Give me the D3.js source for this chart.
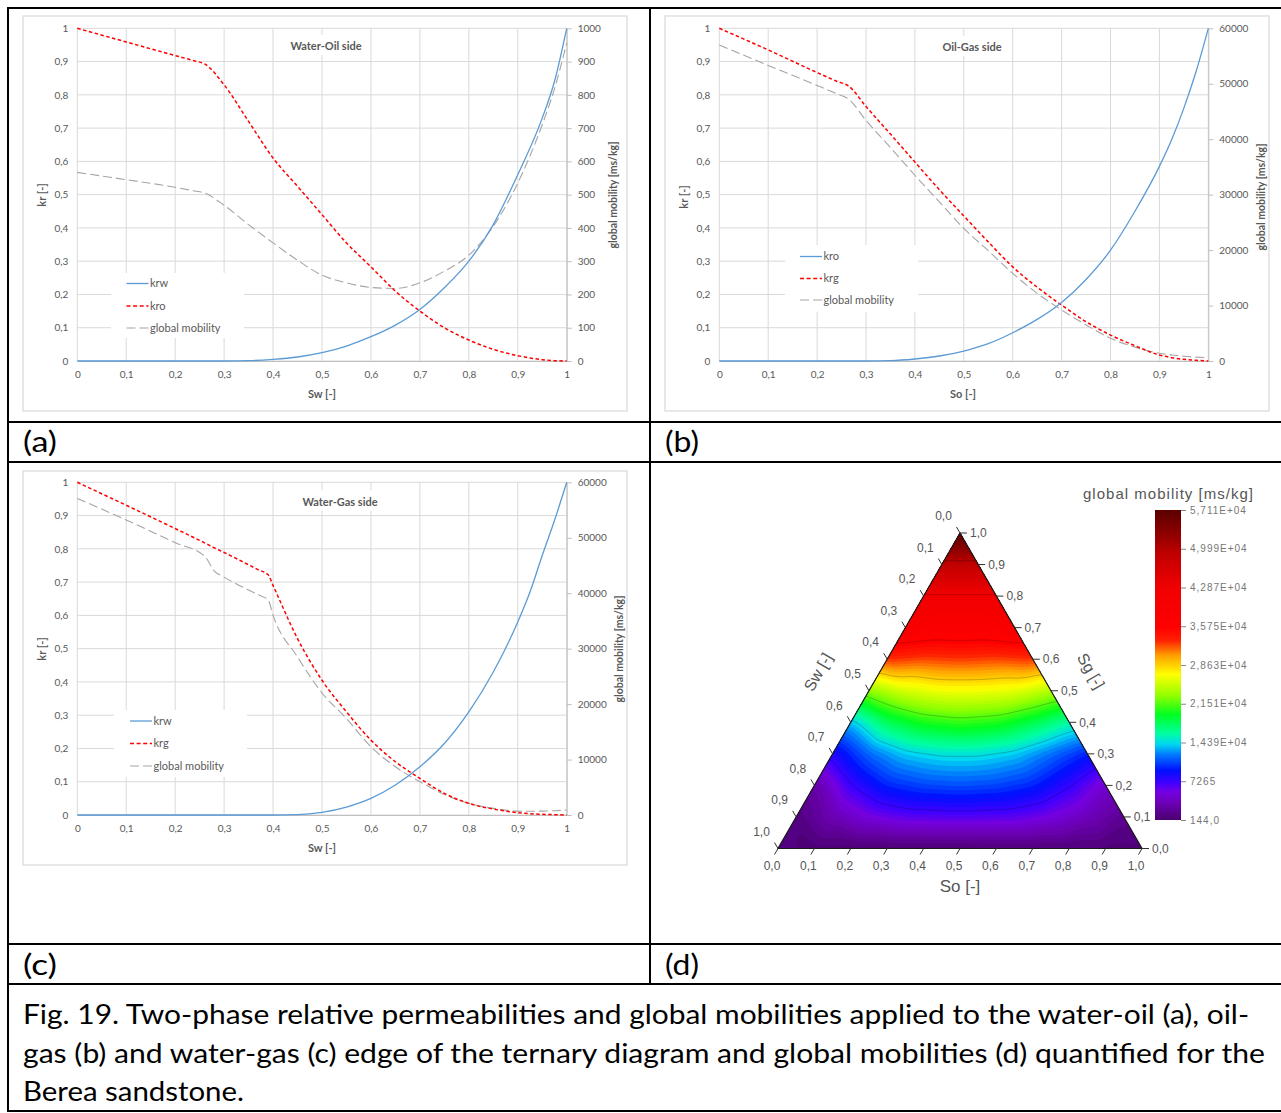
<!DOCTYPE html>
<html><head><meta charset="utf-8">
<script src="https://cdn.jsdelivr.net/npm/d3@7"></script>
<style>body{margin:0;background:#fff}svg{display:block}</style>
</head><body>
<svg id="fig" width="1281" height="1113"></svg>
<script>
// ---------------- DATA ----------------
const xTicks = [0,0.1,0.2,0.3,0.4,0.5,0.6,0.7,0.8,0.9,1];
const krTicks = [0,0.1,0.2,0.3,0.4,0.5,0.6,0.7,0.8,0.9,1];
const gmTicksA = [0,100,200,300,400,500,600,700,800,900,1000];
const gmTicksBC = [0,10000,20000,30000,40000,50000,60000];

// (a) water-oil side
const sw_a  = [0,0.1,0.2,0.24,0.26,0.3,0.35,0.4,0.45,0.5,0.55,0.6,0.65,0.7,0.75,0.8,0.85,0.9,0.95,0.975,1];
const krw_a = [0,0,0,0,0,0,0.001,0.005,0.012,0.025,0.045,0.073,0.108,0.155,0.22,0.30,0.41,0.56,0.73,0.84,1];
const kro_a = [1,0.959,0.918,0.902,0.893,0.83,0.72,0.61,0.525,0.44,0.355,0.283,0.21,0.15,0.10,0.063,0.035,0.016,0.004,0.001,0];
const gm_a  = [567,545,522,511,505,468,410,355,303,258,235,221,218,235,270,318,405,535,710,818,955];

// (b) oil-gas side
const so_b  = [0,0.1,0.2,0.24,0.265,0.3,0.35,0.4,0.45,0.5,0.55,0.6,0.65,0.7,0.75,0.8,0.85,0.9,0.925,0.95,0.975,1];
const kro_b = [0,0,0,0,0,0,0.001,0.006,0.015,0.03,0.052,0.085,0.125,0.176,0.245,0.333,0.45,0.585,0.665,0.76,0.87,1];
const krg_b = [1,0.935,0.867,0.841,0.826,0.765,0.682,0.598,0.515,0.436,0.358,0.283,0.222,0.168,0.118,0.078,0.046,0.018,0.01,0.005,0.002,0];
const gm_b  = [57000,53300,49700,48200,47200,43400,38500,33500,28700,23900,19900,15800,12200,9200,6500,4100,2500,1400,1100,850,700,600];

// (c) water-gas side
const sw_c  = [0,0.1,0.2,0.26,0.28,0.3,0.37,0.39,0.4,0.45,0.5,0.55,0.6,0.65,0.7,0.75,0.8,0.85,0.9,0.925,0.95,0.975,1];
const krw_c = [0,0,0,0,0,0,0,0,0,0.001,0.008,0.024,0.05,0.09,0.145,0.215,0.31,0.43,0.58,0.67,0.78,0.885,1];
const krg_c = [1,0.931,0.861,0.818,0.803,0.789,0.737,0.722,0.69,0.53,0.405,0.31,0.225,0.16,0.11,0.065,0.035,0.018,0.007,0.004,0.002,0.001,0];
const gm_c  = [57100,53200,49100,46700,44000,42900,39700,38800,36000,28500,22000,17400,12300,8700,6000,3700,2100,1200,700,680,700,780,900];

// (d) ternary global mobility read on a 0.1 lattice; row = Sg (0..1), entries from So = 0 (left edge) to So = 1-Sg (right edge)
const tern_r0  = [955,520,318,235,221,258,355,470,522,545,567];
const tern_r1  = [800,3200,5200,6200,6400,6400,6200,5200,3600,1600];
const tern_r2  = [2400,7200,9800,10700,11000,10700,9800,7500,4400];
const tern_r3  = [8000,11600,13800,14600,14600,13800,11800,9600];
const tern_r4  = [13500,18000,20000,20700,20200,18400,16000];
const tern_r5  = [22900,25400,26500,26500,26000,24100];
const tern_r6  = [33000,32400,32700,32400,32800];
const tern_r7  = [38500,37800,37800,38500];
const tern_r8  = [42500,42500,42500];
const tern_r9  = [49000,49000];
const tern_r10 = [57110];
const ternTicks = [0,0.1,0.2,0.3,0.4,0.5,0.6,0.7,0.8,0.9,1];

const cbTicks  = [144,7265,14386,21507,28628,35748,42869,49990,57110];
const cbLabels = ['144,0','7265','1,439E+04','2,151E+04','2,863E+04','3,575E+04','4,287E+04','4,999E+04','5,711E+04'];
const cbStopT  = [0,0.05,0.09,0.12,0.16,0.21,0.245,0.28,0.34,0.40,0.47,0.53,0.58,0.62,0.75,0.86,0.93,1];
const cbStopC  = ['#4a006e','#6a00b0','#7400e0','#4000ff','#0010ff','#0078ff','#00d8f0','#00ffa0','#00ff20','#90ff00','#ffff00','#ffa000','#ff2000','#ff0000','#f00000','#c00000','#8a0000','#5a0000'];

const caption = [
  'Fig. 19. Two-phase relative permeabilities and global mobilities applied to the water-oil (a), oil-',
  'gas (b) and water-gas (c) edge of the ternary diagram and global mobilities (d) quantified for the',
  'Berea sandstone.'
];

// ---------------- HELPERS ----------------
const svg = d3.select('#fig');
const loc = d3.formatLocale({decimal: ",", thousands: "", grouping: [3], currency: ["", ""]});
const fmtG = loc.format("~g");
const fmt1 = loc.format(".1f");
const GRID = '#d9d9d9', AXIS = '#bfbfbf', TXT = '#595959';
const BLUE = '#5b9bd5', RED = '#ff0000', GRAY = '#a5a5a5';
const FONT = 'Lato, "Open Sans", sans-serif';

function panel(o){
  const g = svg.append('g');
  g.append('rect').attr('x', o.box[0]).attr('y', o.box[1])
    .attr('width', o.box[2]-o.box[0]).attr('height', o.box[3]-o.box[1])
    .attr('fill', '#fff').attr('stroke', GRID).attr('stroke-width', 1.2);
  const x = d3.scaleLinear().domain([0,1]).range([o.pl, o.pr]);
  const y = d3.scaleLinear().domain([0,1]).range([o.pb, o.pt]);
  const y2 = d3.scaleLinear().domain([0, o.gmMax]).range([o.pb, o.pt]);

  g.append('g').selectAll('line').data(krTicks).join('line')
    .attr('x1', o.pl).attr('x2', o.pr).attr('y1', d => y(d)).attr('y2', d => y(d))
    .attr('stroke', GRID).attr('stroke-width', 1);
  g.append('g').selectAll('line').data(xTicks).join('line')
    .attr('x1', d => x(d)).attr('x2', d => x(d)).attr('y1', o.pt).attr('y2', o.pb)
    .attr('stroke', GRID).attr('stroke-width', 1);

  const ax = g.append('g').attr('transform', `translate(0,${o.pb})`)
    .call(d3.axisBottom(x).tickValues(xTicks).tickFormat(fmtG).tickSize(0).tickPadding(10));
  ax.select('.domain').attr('stroke', AXIS);
  const ay = g.append('g').attr('transform', `translate(${o.pl},0)`)
    .call(d3.axisLeft(y).tickValues(krTicks).tickFormat(fmtG).tickSize(0).tickPadding(9));
  ay.select('.domain').remove();
  const ay2 = g.append('g').attr('transform', `translate(${o.pr},0)`)
    .call(d3.axisRight(y2).tickValues(o.gmTicks).tickFormat(fmtG).tickSize(5).tickSizeOuter(0).tickPadding(6));
  ay2.selectAll('.domain, line').attr('stroke', AXIS);
  [ax, ay, ay2].forEach(a => a.attr('font-family', FONT).attr('font-size', 10)
    .selectAll('text').attr('fill', TXT));

  const tw = o.title.length * 5.6 + 8;
  g.append('rect').attr('x', o.titleX - tw/2).attr('y', o.titleY - 11).attr('width', tw).attr('height', 20).attr('fill', '#fff');
  g.append('text').attr('x', o.titleX).attr('y', o.titleY + 4).attr('text-anchor', 'middle')
    .attr('font-family', FONT).attr('font-weight', 'bold').attr('font-size', 11).attr('fill', TXT).text(o.title);

  g.append('text').attr('transform', `translate(${o.kX},${o.kY}) rotate(-90)`).attr('text-anchor', 'middle')
    .attr('dy', '0.35em').attr('font-family', FONT).attr('font-weight', 'bold').attr('font-size', 11).attr('fill', TXT).text('kr [-]');
  g.append('text').attr('x', o.xtX).attr('y', o.xtY).attr('text-anchor', 'middle').attr('dy', '0.35em')
    .attr('font-family', FONT).attr('font-weight', 'bold').attr('font-size', 11).attr('fill', TXT).text(o.xTitle);
  g.append('text').attr('transform', `translate(${o.gX},${o.gY}) rotate(-90)`).attr('text-anchor', 'middle')
    .attr('dy', '0.35em').attr('font-family', FONT).attr('font-weight', 'bold').attr('font-size', 10.5).attr('fill', TXT).text('global mobility [ms/kg]');

  const lineK = d3.line().x(d => x(d[0])).y(d => y(d[1])).curve(d3.curveMonotoneX);
  const lineG = d3.line().x(d => x(d[0])).y(d => y2(d[1])).curve(d3.curveMonotoneX);
  g.append('path').attr('d', lineG(d3.zip(o.xs, o.gm))).attr('fill', 'none')
    .attr('stroke', GRAY).attr('stroke-width', 1.1).attr('stroke-dasharray', '9,4');
  g.append('path').attr('d', lineK(d3.zip(o.xs, o.kRed))).attr('fill', 'none')
    .attr('stroke', RED).attr('stroke-width', 1.5).attr('stroke-dasharray', '3.5,2.5');
  g.append('path').attr('d', lineK(d3.zip(o.xs, o.kBlue))).attr('fill', 'none')
    .attr('stroke', BLUE).attr('stroke-width', 1.3);

  const L = o.leg;
  g.append('rect').attr('x', L.x0).attr('y', L.y0).attr('width', L.x1 - L.x0).attr('height', L.y1 - L.y0).attr('fill', '#fff');
  const items = [
    {name: o.names[0], stroke: BLUE, dash: null, w: 1.3},
    {name: o.names[1], stroke: RED, dash: '4,2.6', w: 1.5},
    {name: 'global mobility', stroke: GRAY, dash: '9,4', w: 1.1}
  ];
  items.forEach((it, i) => {
    const yy = L.rows[i];
    g.append('line').attr('x1', L.lx0).attr('x2', L.lx1).attr('y1', yy).attr('y2', yy)
      .attr('stroke', it.stroke).attr('stroke-width', it.w).attr('stroke-dasharray', it.dash);
    g.append('text').attr('x', L.lx1 + 1.5).attr('y', yy).attr('dy', '0.35em')
      .attr('font-family', FONT).attr('font-size', 11).attr('fill', TXT).text(it.name);
  });
}

panel({box: [23,16,627,411], pl: 77.3, pr: 566.7, pt: 28.3, pb: 361, gmMax: 1000, gmTicks: gmTicksA,
  title: 'Water-Oil side', titleX: 326, titleY: 46, xTitle: 'Sw [-]', xtX: 322, xtY: 394,
  kX: 42.5, kY: 195, gX: 613, gY: 195,
  xs: sw_a, kBlue: krw_a, kRed: kro_a, gm: gm_a, names: ['krw','kro'],
  leg: {x0: 111, x1: 244, y0: 273, y1: 338, rows: [283.5, 306, 328], lx0: 126.5, lx1: 148.5}});

panel({box: [665,16,1269,411], pl: 719.3, pr: 1208.3, pt: 28.3, pb: 361, gmMax: 60000, gmTicks: gmTicksBC,
  title: 'Oil-Gas side', titleX: 972, titleY: 47, xTitle: 'So [-]', xtX: 963, xtY: 394,
  kX: 684, kY: 197, gX: 1261.5, gY: 197,
  xs: so_b, kBlue: kro_b, kRed: krg_b, gm: gm_b, names: ['kro','krg'],
  leg: {x0: 785, x1: 918, y0: 245, y1: 312, rows: [256.5, 278.5, 300], lx0: 800, lx1: 822}});

panel({box: [23,471,627,865], pl: 77.3, pr: 566.7, pt: 482.3, pb: 815, gmMax: 60000, gmTicks: gmTicksBC,
  title: 'Water-Gas side', titleX: 340, titleY: 501.5, xTitle: 'Sw [-]', xtX: 322, xtY: 848,
  kX: 42, kY: 649, gX: 619.5, gY: 649,
  xs: sw_c, kBlue: krw_c, kRed: krg_c, gm: gm_c, names: ['krw','krg'],
  leg: {x0: 114, x1: 247, y0: 710, y1: 777, rows: [721, 743.5, 766], lx0: 130, lx1: 152}});

// ---------------- (d) TERNARY ----------------
const T = {x0: 778, x1: 1142, yb: 848.5, yt: 533};
const TW = T.x1 - T.x0, TH = T.yb - T.yt;
const tpos = (sg, so) => [T.x0 + TW*(so + sg/2), T.yb - TH*sg];
const ternRows = [tern_r0,tern_r1,tern_r2,tern_r3,tern_r4,tern_r5,tern_r6,tern_r7,tern_r8,tern_r9,tern_r10];
const V = (i, j) => ternRows[i][j];
function ternValue(sg, so){
  const a = Math.max(0, Math.min(sg*10, 9.9999));
  const b = Math.max(0, Math.min(so*10, 10 - a - 1e-6));
  const i = Math.floor(a);
  let j = Math.floor(b);
  if (i + j > 9) j = 9 - i;
  const fa = a - i, fb = b - j;
  if (fa + fb <= 1) return V(i,j)*(1-fa-fb) + V(i+1,j)*fa + V(i,j+1)*fb;
  return V(i+1,j+1)*(fa+fb-1) + V(i+1,j)*(1-fb) + V(i,j+1)*(1-fa);
}
const gmMin = cbTicks[0], gmMax = cbTicks[cbTicks.length-1];
const color = d3.scaleLinear().domain(cbStopT.map(t => gmMin + t*(gmMax-gmMin))).range(cbStopC).clamp(true);

const defs = svg.append('defs');
const triPts = [tpos(1,0), tpos(0,0), tpos(0,1)];
defs.append('clipPath').attr('id', 'triClip').append('polygon').attr('points', triPts.map(p => p.join(',')).join(' '));

const cs = 1.25, gx0 = 770, gy0 = 524, gn = Math.ceil(380/cs), gm = Math.ceil(334/cs);
let field = new Float64Array(gn*gm);
for (let j = 0; j < gm; j++) for (let i = 0; i < gn; i++) {
  const px = gx0 + (i+0.5)*cs, py = gy0 + (j+0.5)*cs;
  let sg = (T.yb - py)/TH; sg = Math.max(0, Math.min(1, sg));
  let so = (px - T.x0)/TW - sg/2; so = Math.max(0, Math.min(1 - sg, so));
  field[j*gn + i] = ternValue(sg, so);
}
function boxBlur(src, w, h, r){
  const tmp = new Float64Array(w*h), out = new Float64Array(w*h);
  for (let j = 0; j < h; j++) for (let i = 0; i < w; i++) {
    let s = 0, c = 0;
    for (let k = -r; k <= r; k++) { const ii = Math.min(w-1, Math.max(0, i+k)); s += src[j*w+ii]; c++; }
    tmp[j*w+i] = s/c;
  }
  for (let j = 0; j < h; j++) for (let i = 0; i < w; i++) {
    let s = 0, c = 0;
    for (let k = -r; k <= r; k++) { const jj = Math.min(h-1, Math.max(0, j+k)); s += tmp[jj*w+i]; c++; }
    out[j*w+i] = s/c;
  }
  return out;
}
field = boxBlur(boxBlur(field, gn, gm, 4), gn, gm, 4);

const nLev = 96, levStep = (gmMax - gmMin)/nLev;
const levels = d3.range(0, nLev).map(k => gmMin + k*levStep);
const fmin = d3.min(field);
if (fmin < levels[0]) levels[0] = fmin - 1;
const contours = d3.contours().size([gn, gm]).thresholds(levels)(field);
const cpath = d3.geoPath();
const tg = svg.append('g').attr('clip-path', 'url(#triClip)')
  .append('g').attr('transform', `translate(${gx0},${gy0}) scale(${cs})`);
tg.selectAll('path.band').data(contours).join('path').attr('class','band')
  .attr('d', cpath).attr('fill', (d, i) => color(Math.max(gmMin, levels[i]) + levStep/2));
const lines = d3.contours().size([gn, gm]).thresholds(cbTicks.slice(1, -1))(field);
tg.selectAll('path.iso').data(lines).join('path').attr('class','iso')
  .attr('d', cpath).attr('fill', 'none').attr('stroke', '#000').attr('stroke-opacity', 0.3).attr('stroke-width', 0.7/cs);

svg.append('polygon').attr('points', triPts.map(p => p.join(',')).join(' '))
  .attr('fill', 'none').attr('stroke', '#1a1a1a').attr('stroke-width', 1.2);

const TF = '"Liberation Sans", Arial, sans-serif', TC = '#555';
const tt = svg.append('g').attr('font-family', TF).attr('font-size', 12).attr('fill', TC);
ternTicks.forEach(v => {
  let [px, py] = tpos(0, v);
  tt.append('line').attr('x1', px).attr('y1', py).attr('x2', px - 3.5).attr('y2', py + 6).attr('stroke', '#333');
  tt.append('text').attr('x', px - 6).attr('y', py + 17).attr('dy', '0.35em').attr('text-anchor', 'middle').text(fmt1(v));
  [px, py] = tpos(1 - v, 0);
  tt.append('line').attr('x1', px).attr('y1', py).attr('x2', px - 3.5).attr('y2', py - 6).attr('stroke', '#333');
  tt.append('text').attr('x', px - 16.5).attr('y', py - 17).attr('dy', '0.35em').attr('text-anchor', 'middle').text(fmt1(v));
  [px, py] = tpos(v, 1 - v);
  tt.append('line').attr('x1', px).attr('y1', py).attr('x2', px + 7).attr('y2', py).attr('stroke', '#333');
  tt.append('text').attr('x', px + 10).attr('y', py).attr('dy', '0.35em').attr('text-anchor', 'start').text(fmt1(v));
});
svg.append('text').attr('x', 960).attr('y', 886).attr('dy', '0.35em').attr('text-anchor', 'middle')
  .attr('font-family', TF).attr('font-size', 17).attr('fill', TC).text('So [-]');
svg.append('text').attr('transform', 'translate(818,672) rotate(-60)').attr('dy', '0.35em').attr('text-anchor', 'middle')
  .attr('font-family', TF).attr('font-size', 16).attr('fill', TC).text('Sw [-]');
svg.append('text').attr('transform', 'translate(1091,671) rotate(60)').attr('dy', '0.35em').attr('text-anchor', 'middle')
  .attr('font-family', TF).attr('font-size', 16).attr('fill', TC).text('Sg [-]');

// colour bar
const grad = defs.append('linearGradient').attr('id', 'cbGrad').attr('x1', 0).attr('y1', 1).attr('x2', 0).attr('y2', 0);
grad.selectAll('stop').data(cbStopT).join('stop').attr('offset', d => d).attr('stop-color', (d, i) => cbStopC[i]);
const cbY = d3.scaleLinear().domain([gmMin, gmMax]).range([820, 510]);
svg.append('rect').attr('x', 1155).attr('y', 510).attr('width', 26).attr('height', 310).attr('fill', 'url(#cbGrad)');
const cbAxis = svg.append('g').attr('transform', 'translate(1181,0)')
  .call(d3.axisRight(cbY).tickValues(cbTicks).tickFormat((d, i) => cbLabels[i]).tickSize(5).tickSizeOuter(0).tickPadding(4));
cbAxis.select('.domain').remove();
cbAxis.selectAll('line').attr('stroke', '#888');
cbAxis.attr('font-family', TF).attr('font-size', 10).selectAll('text').attr('fill', '#777').attr('letter-spacing', 1);
svg.append('text').attr('x', 1168).attr('y', 494).attr('dy', '0.35em').attr('text-anchor', 'middle')
  .attr('font-family', TF).attr('font-size', 15).attr('fill', TC).attr('textLength', 170).text('global mobility [ms/kg]');

// ---------------- TABLE FRAME, LABELS, CAPTION ----------------
const fr = svg.append('g').attr('stroke', '#000').attr('stroke-width', 2);
[8, 422, 462, 944, 984, 1111].forEach(yy => fr.append('line').attr('x1', 7).attr('x2', 1281).attr('y1', yy).attr('y2', yy));
fr.append('line').attr('x1', 8).attr('x2', 8).attr('y1', 7).attr('y2', 1112);
fr.append('line').attr('x1', 650).attr('x2', 650).attr('y1', 7).attr('y2', 985);

const CF = 'Lato, "Open Sans", sans-serif';
[['(a)', 23, 452], ['(b)', 665, 452], ['(c)', 23, 975], ['(d)', 665, 975]].forEach(([t, xx, yy]) =>
  svg.append('text').attr('x', xx).attr('y', yy).attr('font-family', CF).attr('font-size', 28).attr('fill', '#000')
    .attr('textLength', 34).attr('lengthAdjust', 'spacingAndGlyphs').text(t));
const capW = [1226, 1242, 221];
caption.forEach((line, i) => {
  svg.append('text').attr('x', 23).attr('y', 1024 + i*38.5).attr('font-family', CF).attr('font-size', 26).attr('fill', '#000')
    .attr('textLength', capW[i]).attr('lengthAdjust', 'spacingAndGlyphs').text(line);
});
</script>
</body></html>
